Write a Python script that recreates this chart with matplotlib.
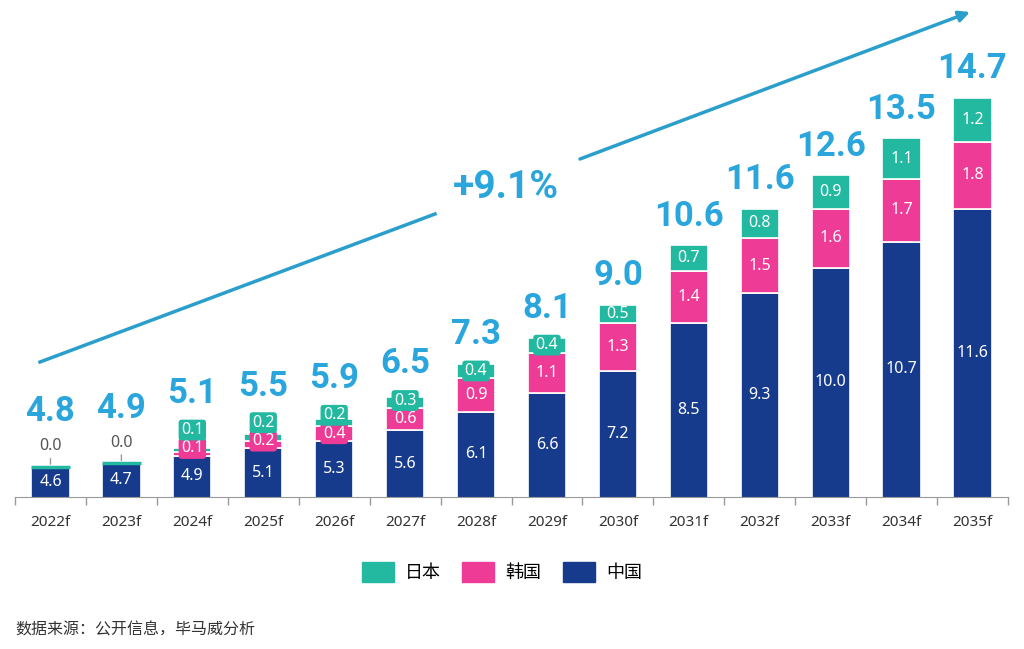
import numpy as np
import matplotlib.pyplot as plt
from matplotlib.lines import Line2D
from matplotlib.patches import Patch

plt.rcParams['font.family'] = ['Noto Sans', 'Noto Sans CJK SC', 'DejaVu Sans']

years = ['2022f', '2023f', '2024f', '2025f', '2026f', '2027f', '2028f',
         '2029f', '2030f', '2031f', '2032f', '2033f', '2034f', '2035f']
china = [4.6, 4.7, 4.9, 5.1, 5.3, 5.6, 6.1, 6.6, 7.2, 8.5, 9.3, 10.0, 10.7, 11.6]
korea = [0.0, 0.0, 0.1, 0.2, 0.4, 0.6, 0.9, 1.1, 1.3, 1.4, 1.5, 1.6, 1.7, 1.8]
japan = [0.0, 0.0, 0.1, 0.2, 0.2, 0.3, 0.4, 0.4, 0.5, 0.7, 0.8, 0.9, 1.1, 1.2]
totals = [4.8, 4.9, 5.1, 5.5, 5.9, 6.5, 7.3, 8.1, 9.0, 10.6, 11.6, 12.6, 13.5, 14.7]
cagr = '+9.1%'

NAVY = '#163B8C'
PINK = '#EE3B95'
TEAL = '#22B9A0'
BLUE = '#2BA6DC'
ARROW = '#2B9FCB'
NUMFONT = ['DejaVu Sans Condensed', 'Roboto', 'DejaVu Sans']
Y0 = 3.786   # the value axis does not start at zero

fig = plt.figure(figsize=(10.24, 6.49), dpi=100)
ax = fig.add_axes([15/1024, 1-497/649, 993/1024, 497/649])

x = np.arange(len(years))
w = 0.54
series = [('中国', china, NAVY), ('韩国', korea, PINK), ('日本', japan, TEAL)]
bottom = np.zeros(len(x))
last_lab = np.full(len(x), -1.0)   # y of previous small label box
stuff_top = np.zeros(len(x))       # top of bars + labels, for the totals

for name, vals, col in series:
    vals = np.array(vals)
    for i in x:
        v = vals[i]
        if v == 0:
            if name == '日本':
                ax.bar(i, 0, w, bottom=bottom[i], color=col, edgecolor=col, linewidth=2.5)
                ax.annotate('0.0', (i, bottom[i]), xytext=(0, 9), textcoords='offset points',
                            ha='center', va='bottom', color='#555555', fontsize=11.5,
                            arrowprops=dict(arrowstyle='-', color='#999999', lw=1,
                                            shrinkA=1, shrinkB=2))
                stuff_top[i] = bottom[i] + 0.7
            continue
        ax.bar(i, v, w, bottom=bottom[i], color=col, edgecolor='white', linewidth=1.2)
        mid = (max(bottom[i], Y0) + bottom[i] + v) / 2
        if name != '中国' and v < 0.45:
            y = max(mid, bottom[i] + 0.2, last_lab[i] + 0.5)
            ax.text(i, y, f'{v:.1f}', ha='center', va='center', color='white', fontsize=11.5,
                    bbox=dict(boxstyle='round,pad=0.15,rounding_size=0.2', fc=col, ec='none'))
            last_lab[i] = y
        else:
            y = mid
            ax.text(i, y, f'{v:.1f}', ha='center', va='center', color='white', fontsize=11.5)
            last_lab[i] = -1.0
        stuff_top[i] = max(bottom[i] + v, y + 0.2)
    bottom += vals

for i in x:
    ax.annotate(f'{totals[i]:.1f}', (i, stuff_top[i]), xytext=(0, 21), textcoords='offset points',
                ha='center', va='center', color=BLUE, fontsize=25, fontweight='bold',
                fontstretch='condensed', family=NUMFONT)

ax.set_xlim(-0.5, 13.5)
ax.set_ylim(Y0, 17.25)
ax.set_xticks(x)
ax.set_xticklabels(years, fontsize=11, color='#333333')
ax.set_xticks(np.arange(-0.5, 14, 1), minor=True)
ax.tick_params(axis='x', which='major', length=0, pad=13)
ax.tick_params(axis='x', which='minor', length=6, color='#999999', width=1)
ax.set_yticks([])
for s in ['top', 'left', 'right']:
    ax.spines[s].set_visible(False)
ax.spines['bottom'].set_color('#999999')
ax.patch.set_alpha(0)

# growth arrow
fig.add_artist(Line2D([40/1024, 435/1024], [1-362/649, 1-214/649], color=ARROW, lw=2.5,
                      transform=fig.transFigure))
ax.annotate('', xy=(970/1024, 1-12/649), xytext=(580/1024, 1-159/649),
            xycoords='figure fraction', textcoords='figure fraction',
            arrowprops=dict(arrowstyle='-|>', color=ARROW, lw=2.5, mutation_scale=16,
                            shrinkA=0, shrinkB=0), annotation_clip=False)
fig.text(506/1024, 1-188/649, cagr, ha='center', va='center', color=BLUE,
         fontsize=28, fontweight='bold', fontstretch='condensed', family=NUMFONT)

handles = [Patch(color=TEAL, label='日本'), Patch(color=PINK, label='韩国'),
           Patch(color=NAVY, label='中国')]
fig.legend(handles=handles, loc='center', bbox_to_anchor=(0.49, 1-572/649), ncol=3,
           frameon=False, prop={'family': ['Noto Sans CJK SC'], 'size': 13},
           handlelength=1.78, handleheight=1.28, handletextpad=0.6, columnspacing=1.2)

fig.text(15/1024, 1-630/649, '数据来源：公开信息，毕马威分析', fontsize=11.5, color='#333333',
         va='center', family=['Noto Sans CJK SC'])

fig.savefig('out.png', dpi=100)
